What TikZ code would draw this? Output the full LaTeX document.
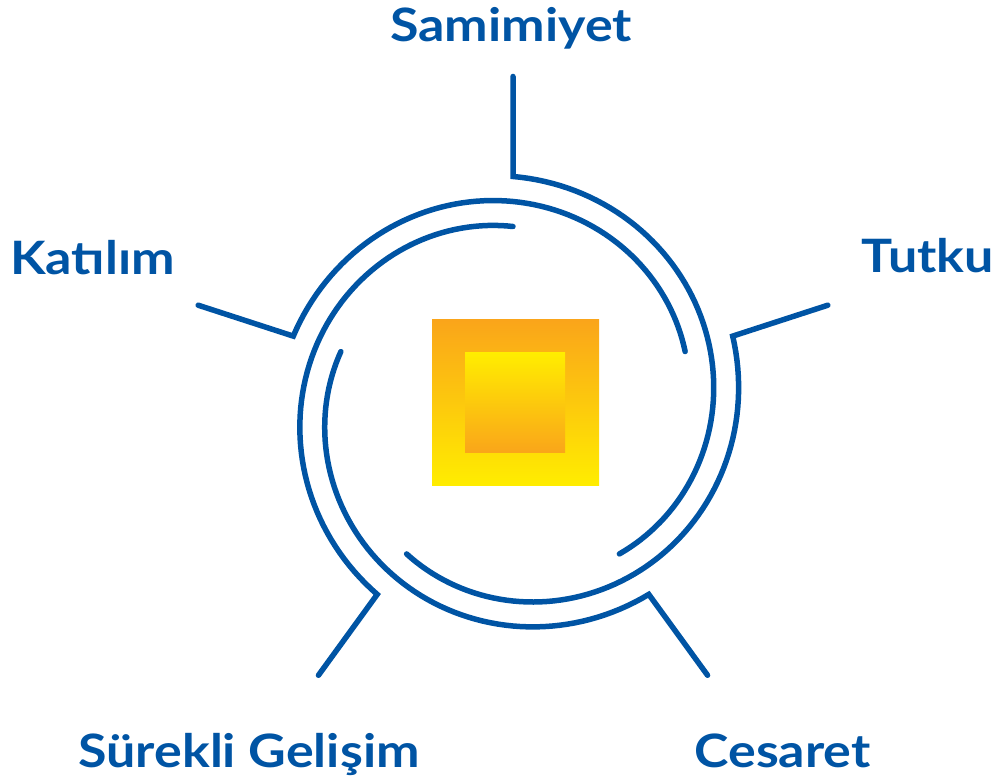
\documentclass[tikz,border=0pt]{standalone}
\usepackage{fontspec}
\setmainfont{Lato}[FakeStretch=1.13]
\definecolor{blu}{RGB}{0,84,164}
\definecolor{orng}{RGB}{250,165,26}
\definecolor{yel}{RGB}{255,237,0}
\begin{document}
\begin{tikzpicture}[x=1pt,y=1pt,
  lbl/.style={text=blu, font=\fontsize{46}{50}\selectfont\bfseries, inner sep=0pt, anchor=base},
  arm/.style={draw=blu, line width=5.5pt, line cap=round, line join=miter}]
\useasboundingbox (0,0) rectangle (1007,779);
\shade[top color=orng, bottom color=yel] (432,459) rectangle (599,293);
\shade[top color=yel, bottom color=orng] (465,426) rectangle (565,326);
\coordinate (c) at (513,371.5);
\foreach \a in {90,18,-54,-126,162}{
  \draw[arm, shift={(c)}] (\a:331) -- plot[domain=0:144, samples=73] ({\a-\x}:{231-50*\x/144});
}
\node[lbl] (sam) at (511,737) {Samimiyet};
\node[lbl] (kat) at (92.5,504) {Katılım};
\node[lbl] (tut) at (928,506) {Tutku};
\node[lbl] (sur) at (249,11) {Sürekli Gelişim};
\node[lbl] (ces) at (782.5,11) {Cesaret};
\end{tikzpicture}
\end{document}
